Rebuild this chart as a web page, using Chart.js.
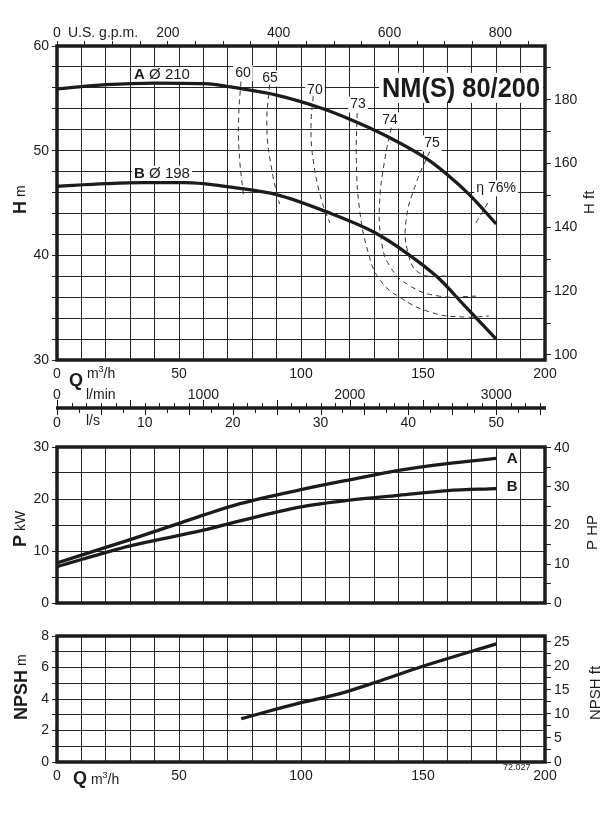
<!DOCTYPE html>
<html>
<head>
<meta charset="utf-8">
<script src="https://cdn.jsdelivr.net/npm/chart.js@4.4.1/dist/chart.umd.min.js"></script>
<style>
  html, body { margin: 0; padding: 0; background: #fff; }
  #wrap { position: relative; width: 614px; height: 829px; overflow: hidden; background: #fff; }
  canvas { position: absolute; left: 0; }
</style>
</head>
<body>
<div id="wrap">
  <canvas id="headChart" width="614" height="440" style="top:0px"></canvas>
  <canvas id="powerChart" width="614" height="190" style="top:430px"></canvas>
  <canvas id="npshChart" width="614" height="209" style="top:620px"></canvas>
</div>
<script>
// values (Q in m3/h)
const qHeadA = [0, 20, 40, 60, 76, 90, 109, 120, 135, 151, 160, 169, 180];
const hHeadA = [55.9, 56.3, 56.45, 56.4, 55.9, 55.3, 54.0, 53.0, 51.4, 49.3, 47.7, 45.8, 43.0];
const qHeadB = [0, 20, 35, 52, 75, 90, 110, 130, 144, 156, 167, 180];
const hHeadB = [46.6, 46.85, 46.95, 46.95, 46.4, 45.8, 44.2, 42.2, 40.1, 37.9, 35.2, 32.0];

// iso-efficiency lines, [Q, H]
const eta60 = [[75.4, 56.6], [74.5, 53.5], [74.6, 50.0], [76.5, 45.5]];
const eta65 = [[87.1, 56.3], [86.0, 52.3], [88.0, 48.2], [91.2, 44.9]];
const eta70 = [[105.0, 55.2], [104.1, 52.3], [105.0, 49.1], [108.4, 45.3], [111.8, 43.1]];
const eta73 = [[123.0, 53.6], [122.7, 49.1], [124.0, 44.4], [127.5, 40.3], [132.2, 37.7], [140.4, 36.0], [154.0, 34.5], [167.6, 34.1], [177.0, 34.2]];
const eta74 = [[137.0, 52.2], [134.3, 49.1], [132.2, 45.0], [132.9, 41.5], [136.3, 39.0], [144.5, 37.1], [156.7, 36.1], [171.7, 36.1]];
const eta75 = [[152.7, 49.9], [147.2, 46.9], [143.1, 43.4], [143.8, 40.3], [148.6, 38.3], [159.5, 38.0]];
const eta76 = [[176.5, 45.0], [171.7, 43.1]];
const etaNames = ['60', '65', '70', '73', '74', '75'];

const qPowerA = [0, 30, 50, 60, 75, 100, 120, 140, 160, 180];
const pPowerA = [7.7, 12.2, 15.3, 16.9, 19.1, 21.8, 23.7, 25.5, 26.8, 27.8];
const qPowerB = [0, 30, 60, 75, 100, 120, 140, 160, 180];
const pPowerB = [7.0, 11.0, 14.0, 15.8, 18.5, 19.8, 20.7, 21.6, 22.0];

const qNpsh = [75.5, 100, 116, 131, 149, 180];
const npshVals = [2.75, 3.77, 4.34, 5.08, 6.03, 7.5];

// tick labels
const qTickLabels = [0, 50, 100, 150, 200];
const gpmTickLabels = [0, 200, 400, 600, 800];
const lminTickLabels = [0, 1000, 2000, 3000];
const lsTickLabels = [0, 10, 20, 30, 40, 50];
const hTickLabels = [30, 40, 50, 60];
const hFtTickLabels = [100, 120, 140, 160, 180];
const pTickLabels = [0, 10, 20, 30];
const hpTickLabels = [0, 10, 20, 30, 40];
const npshTickLabels = [0, 2, 4, 6, 8];
const npshFtTickLabels = [0, 5, 10, 15, 20, 25];

// unit conversions
const M_TO_FT = 3.28084;
const KW_TO_HP = 1.341;
const M3H_TO_GPM = 4.40287;
const M3H_TO_LMIN = 1000 / 60;
const M3H_TO_LS = 1 / 3.6;

const INK = '#1b1b1b';
const FONT = "'Liberation Sans', Arial, Helvetica, sans-serif";
Chart.defaults.font.family = FONT;
Chart.defaults.font.size = 14;
Chart.defaults.color = INK;
Chart.defaults.animation = false;

const pts = (xs, ys) => xs.map((x, i) => ({ x: x, y: ys[i] }));
const pairs = arr => arr.map(p => ({ x: p[0], y: p[1] }));
const only = list => v => (list.includes(v) ? v : '');

function runsWidth(ctx, runs) {
  let w = 0;
  runs.forEach(r => { ctx.font = r[1]; w += ctx.measureText(r[0]).width; });
  return w;
}
function drawRuns(ctx, x, y, runs, bg, align) {
  const w = runsWidth(ctx, runs);
  let cx = align === 'center' ? x - w / 2 : x;
  if (bg) {
    ctx.fillStyle = '#fff';
    ctx.fillRect(cx - 2, y - 8, w + 4, 16);
  }
  ctx.fillStyle = INK;
  ctx.textAlign = 'left';
  runs.forEach(r => {
    ctx.font = r[1];
    ctx.textBaseline = r[2] != null ? 'alphabetic' : 'middle';
    ctx.fillText(r[0], cx, r[2] != null ? y + r[2] : y);
    cx += ctx.measureText(r[0]).width;
  });
}
function drawRotated(ctx, x, y, runs) {
  ctx.save();
  ctx.translate(x, y);
  ctx.rotate(-Math.PI / 2);
  drawRuns(ctx, 0, 0, runs, false);
  ctx.restore();
}
function frame(chart) {
  const a = chart.chartArea, ctx = chart.ctx;
  ctx.save();
  ctx.strokeStyle = INK;
  ctx.lineWidth = 3.5;
  ctx.strokeRect(a.left, a.top, a.right - a.left, a.bottom - a.top);
  ctx.restore();
}
function qUnit(ctx, x, y, lift) {
  drawRuns(ctx, x, y, [['Q', 'bold 18px ' + FONT], [' m', '14px ' + FONT, lift], ['3', '9px ' + FONT, lift - 6], ['/h', '14px ' + FONT, lift]], false);
}

const gridOpts = { color: '#262626', lineWidth: 1 };
const noBorder = { display: false };

function xAxis(height, showLabels) {
  return {
    type: 'linear', position: 'bottom', min: 0, max: 200,
    afterFit: s => { s.height = height; },
    ticks: { stepSize: 10, autoSkip: false, maxRotation: 0, padding: 6, display: showLabels, callback: only(qTickLabels) },
    grid: Object.assign({ drawTicks: false }, gridOpts),
    border: noBorder
  };
}
function leftAxis(min, max, step, labels) {
  return {
    type: 'linear', position: 'left', min: min, max: max,
    afterFit: s => { s.width = 57; },
    ticks: { stepSize: step, autoSkip: false, padding: 3, callback: only(labels) },
    grid: Object.assign({ tickLength: 5 }, gridOpts),
    border: noBorder
  };
}
function rightAxis(min, max, step, labels) {
  return {
    type: 'linear', position: 'right', min: min, max: max,
    afterFit: s => { s.width = 69; },
    ticks: { stepSize: step, autoSkip: false, includeBounds: false, padding: 3, callback: only(labels) },
    grid: { drawOnChartArea: false, tickLength: 6, color: INK },
    border: noBorder
  };
}

function curve(data, width, yId) {
  return {
    data: data, xAxisID: 'x', yAxisID: yId || 'y',
    borderColor: INK, borderWidth: width, pointRadius: 0,
    cubicInterpolationMode: 'monotone', fill: false
  };
}
function dashed(data) {
  return {
    data: pairs(data), xAxisID: 'x', yAxisID: 'y',
    borderColor: '#333', borderWidth: 1, borderDash: [5, 4], pointRadius: 0,
    tension: 0.45, fill: false
  };
}

// ---------- H chart ----------
const etaLabelAt = [[76.2, 57.4], [87.3, 56.9], [105.7, 55.8], [123.4, 54.4], [136.5, 52.9], [153.7, 50.7]];

const headLabels = {
  id: 'headLabels',
  beforeDatasetsDraw(chart) {
    const ctx = chart.ctx, x = chart.scales.x, y = chart.scales.y;
    ctx.save();
    const f = '14px ' + FONT;
    etaNames.forEach((n, i) => {
      drawRuns(ctx, x.getPixelForValue(etaLabelAt[i][0]), y.getPixelForValue(etaLabelAt[i][1]), [[n, f]], true, 'center');
    });
    drawRuns(ctx, x.getPixelForValue(180), y.getPixelForValue(46.4), [['η ', f], ['76%', f]], true, 'center');
    drawRuns(ctx, x.getPixelForValue(31.6), y.getPixelForValue(57.2), [['A', 'bold 15px ' + FONT], [' Ø 210', '15px ' + FONT]], true);
    drawRuns(ctx, x.getPixelForValue(31.6), y.getPixelForValue(47.8), [['B', 'bold 15px ' + FONT], [' Ø 198', '15px ' + FONT]], true);
    // model name
    const nx = x.getPixelForValue(133.2), ny = y.getPixelForValue(56.0);
    ctx.font = 'bold 28px ' + FONT;
    const tw = ctx.measureText('NM(S) 80/200').width;
    const sx = 158 / tw;
    ctx.fillStyle = '#fff';
    ctx.fillRect(nx - 3, ny - 15, 164, 30);
    ctx.save();
    ctx.translate(nx, ny);
    ctx.scale(sx, 1);
    ctx.fillStyle = INK;
    ctx.textBaseline = 'middle';
    ctx.textAlign = 'left';
    ctx.fillText('NM(S) 80/200', 0, 1);
    ctx.restore();
    ctx.restore();
  },
  afterDraw(chart) {
    const ctx = chart.ctx, x = chart.scales.x;
    frame(chart);
    ctx.save();
    drawRotated(ctx, 21, 214, [['H', 'bold 18px ' + FONT], [' m', '14px ' + FONT]]);
    drawRotated(ctx, 590, 214, [['H', '15px ' + FONT], [' ft', '15px ' + FONT]]);
    drawRuns(ctx, 68, 33, [['U.S. g.p.m.', '14px ' + FONT]], false);
    qUnit(ctx, 69, 381, -3);
    // l/min and l/s double scale
    const yLine = 408;
    ctx.strokeStyle = INK;
    ctx.lineWidth = 3.5;
    ctx.beginPath();
    ctx.moveTo(x.left - 1, yLine);
    ctx.lineTo(x.right + 1, yLine);
    ctx.stroke();
    ctx.lineWidth = 1;
    for (let v = 0; v <= 200 * M3H_TO_LMIN; v += 100) {
      const px = Math.round(x.getPixelForValue(v / M3H_TO_LMIN)) + 0.5;
      const len = v % 500 === 0 ? 8 : 5;
      ctx.beginPath(); ctx.moveTo(px, yLine - len); ctx.lineTo(px, yLine); ctx.stroke();
    }
    for (let v = 0; v <= 200 * M3H_TO_LS; v += 2.5) {
      const px = Math.round(x.getPixelForValue(v / M3H_TO_LS)) + 0.5;
      const len = v % 5 === 0 ? 7 : 5;
      ctx.beginPath(); ctx.moveTo(px, yLine); ctx.lineTo(px, yLine + len); ctx.stroke();
    }
    const f = '14px ' + FONT;
    lminTickLabels.forEach(v => drawRuns(ctx, x.getPixelForValue(v / M3H_TO_LMIN), 395, [[String(v), f]], false, 'center'));
    lsTickLabels.forEach(v => drawRuns(ctx, x.getPixelForValue(v / M3H_TO_LS), 423, [[String(v), f]], false, 'center'));
    drawRuns(ctx, 86, 395, [['l/min', f]], false);
    drawRuns(ctx, 86, 421, [['l/s', f]], false);
    ctx.restore();
  }
};

new Chart(document.getElementById('headChart'), {
  type: 'line',
  data: {
    datasets: [
      dashed(eta60), dashed(eta65), dashed(eta70), dashed(eta73), dashed(eta74), dashed(eta75), dashed(eta76),
      curve(pts(qHeadA, hHeadA), 3.3),
      curve(pts(qHeadB, hHeadB), 3.3)
    ]
  },
  options: {
    responsive: false,
    devicePixelRatio: 1,
    layout: { padding: 0 },
    plugins: { legend: { display: false }, tooltip: { enabled: false } },
    scales: {
      x: xAxis(80, true),
      xGpm: {
        type: 'linear', position: 'top', min: 0, max: 200 * M3H_TO_GPM,
        afterFit: s => { s.height = 46; },
        ticks: { stepSize: 50, includeBounds: false, autoSkip: false, maxRotation: 0, padding: -1, callback: only(gpmTickLabels) },
        grid: { drawOnChartArea: false, tickLength: 5, color: INK },
        border: noBorder
      },
      y: leftAxis(30, 60, 2, hTickLabels),
      yFt: rightAxis(30 * M_TO_FT, 60 * M_TO_FT, 10, hFtTickLabels)
    }
  },
  plugins: [headLabels]
});

// ---------- P chart ----------
const powerLabels = {
  id: 'powerLabels',
  beforeDatasetsDraw(chart) {
    const ctx = chart.ctx, x = chart.scales.x, y = chart.scales.y;
    drawRuns(ctx, x.getPixelForValue(186.5), y.getPixelForValue(27.8), [['A', 'bold 15px ' + FONT]], true, 'center');
    drawRuns(ctx, x.getPixelForValue(186.5), y.getPixelForValue(22.3), [['B', 'bold 15px ' + FONT]], true, 'center');
  },
  afterDraw(chart) {
    const ctx = chart.ctx;
    frame(chart);
    ctx.save();
    drawRotated(ctx, 21, 117, [['P', 'bold 18px ' + FONT], [' kW', '14px ' + FONT]]);
    drawRotated(ctx, 593, 120, [['P HP', '15px ' + FONT]]);
    ctx.restore();
  }
};

new Chart(document.getElementById('powerChart'), {
  type: 'line',
  data: {
    datasets: [
      curve(pts(qPowerA, pPowerA), 3.3),
      curve(pts(qPowerB, pPowerB), 3.3)
    ]
  },
  options: {
    responsive: false,
    devicePixelRatio: 1,
    layout: { padding: { top: 17, bottom: 0, left: 0, right: 0 } },
    plugins: { legend: { display: false }, tooltip: { enabled: false } },
    scales: {
      x: xAxis(17, false),
      y: leftAxis(0, 30, 5, pTickLabels),
      yHp: rightAxis(0, 30 * KW_TO_HP, 5, hpTickLabels)
    }
  },
  plugins: [powerLabels]
});

// ---------- NPSH chart ----------
const npshLabels = {
  id: 'npshLabels',
  afterDraw(chart) {
    const ctx = chart.ctx;
    frame(chart);
    ctx.save();
    drawRotated(ctx, 22, 100, [['NPSH', 'bold 18px ' + FONT], [' m', '14px ' + FONT]]);
    drawRotated(ctx, 596, 100, [['NPSH ft', '15px ' + FONT]]);
    qUnit(ctx, 73, 159, 5);
    drawRuns(ctx, 503, 148, [['72.027', '9px ' + FONT]], false);
    ctx.restore();
  }
};

new Chart(document.getElementById('npshChart'), {
  type: 'line',
  data: {
    datasets: [curve(pts(qNpsh, npshVals), 3.3)]
  },
  options: {
    responsive: false,
    devicePixelRatio: 1,
    layout: { padding: { top: 16, bottom: 0, left: 0, right: 0 } },
    plugins: { legend: { display: false }, tooltip: { enabled: false } },
    scales: {
      x: xAxis(67, true),
      y: leftAxis(0, 8, 1, npshTickLabels),
      yFt: rightAxis(0, 8 * M_TO_FT, 2.5, npshFtTickLabels)
    }
  },
  plugins: [npshLabels]
});
</script>
</body>
</html>
